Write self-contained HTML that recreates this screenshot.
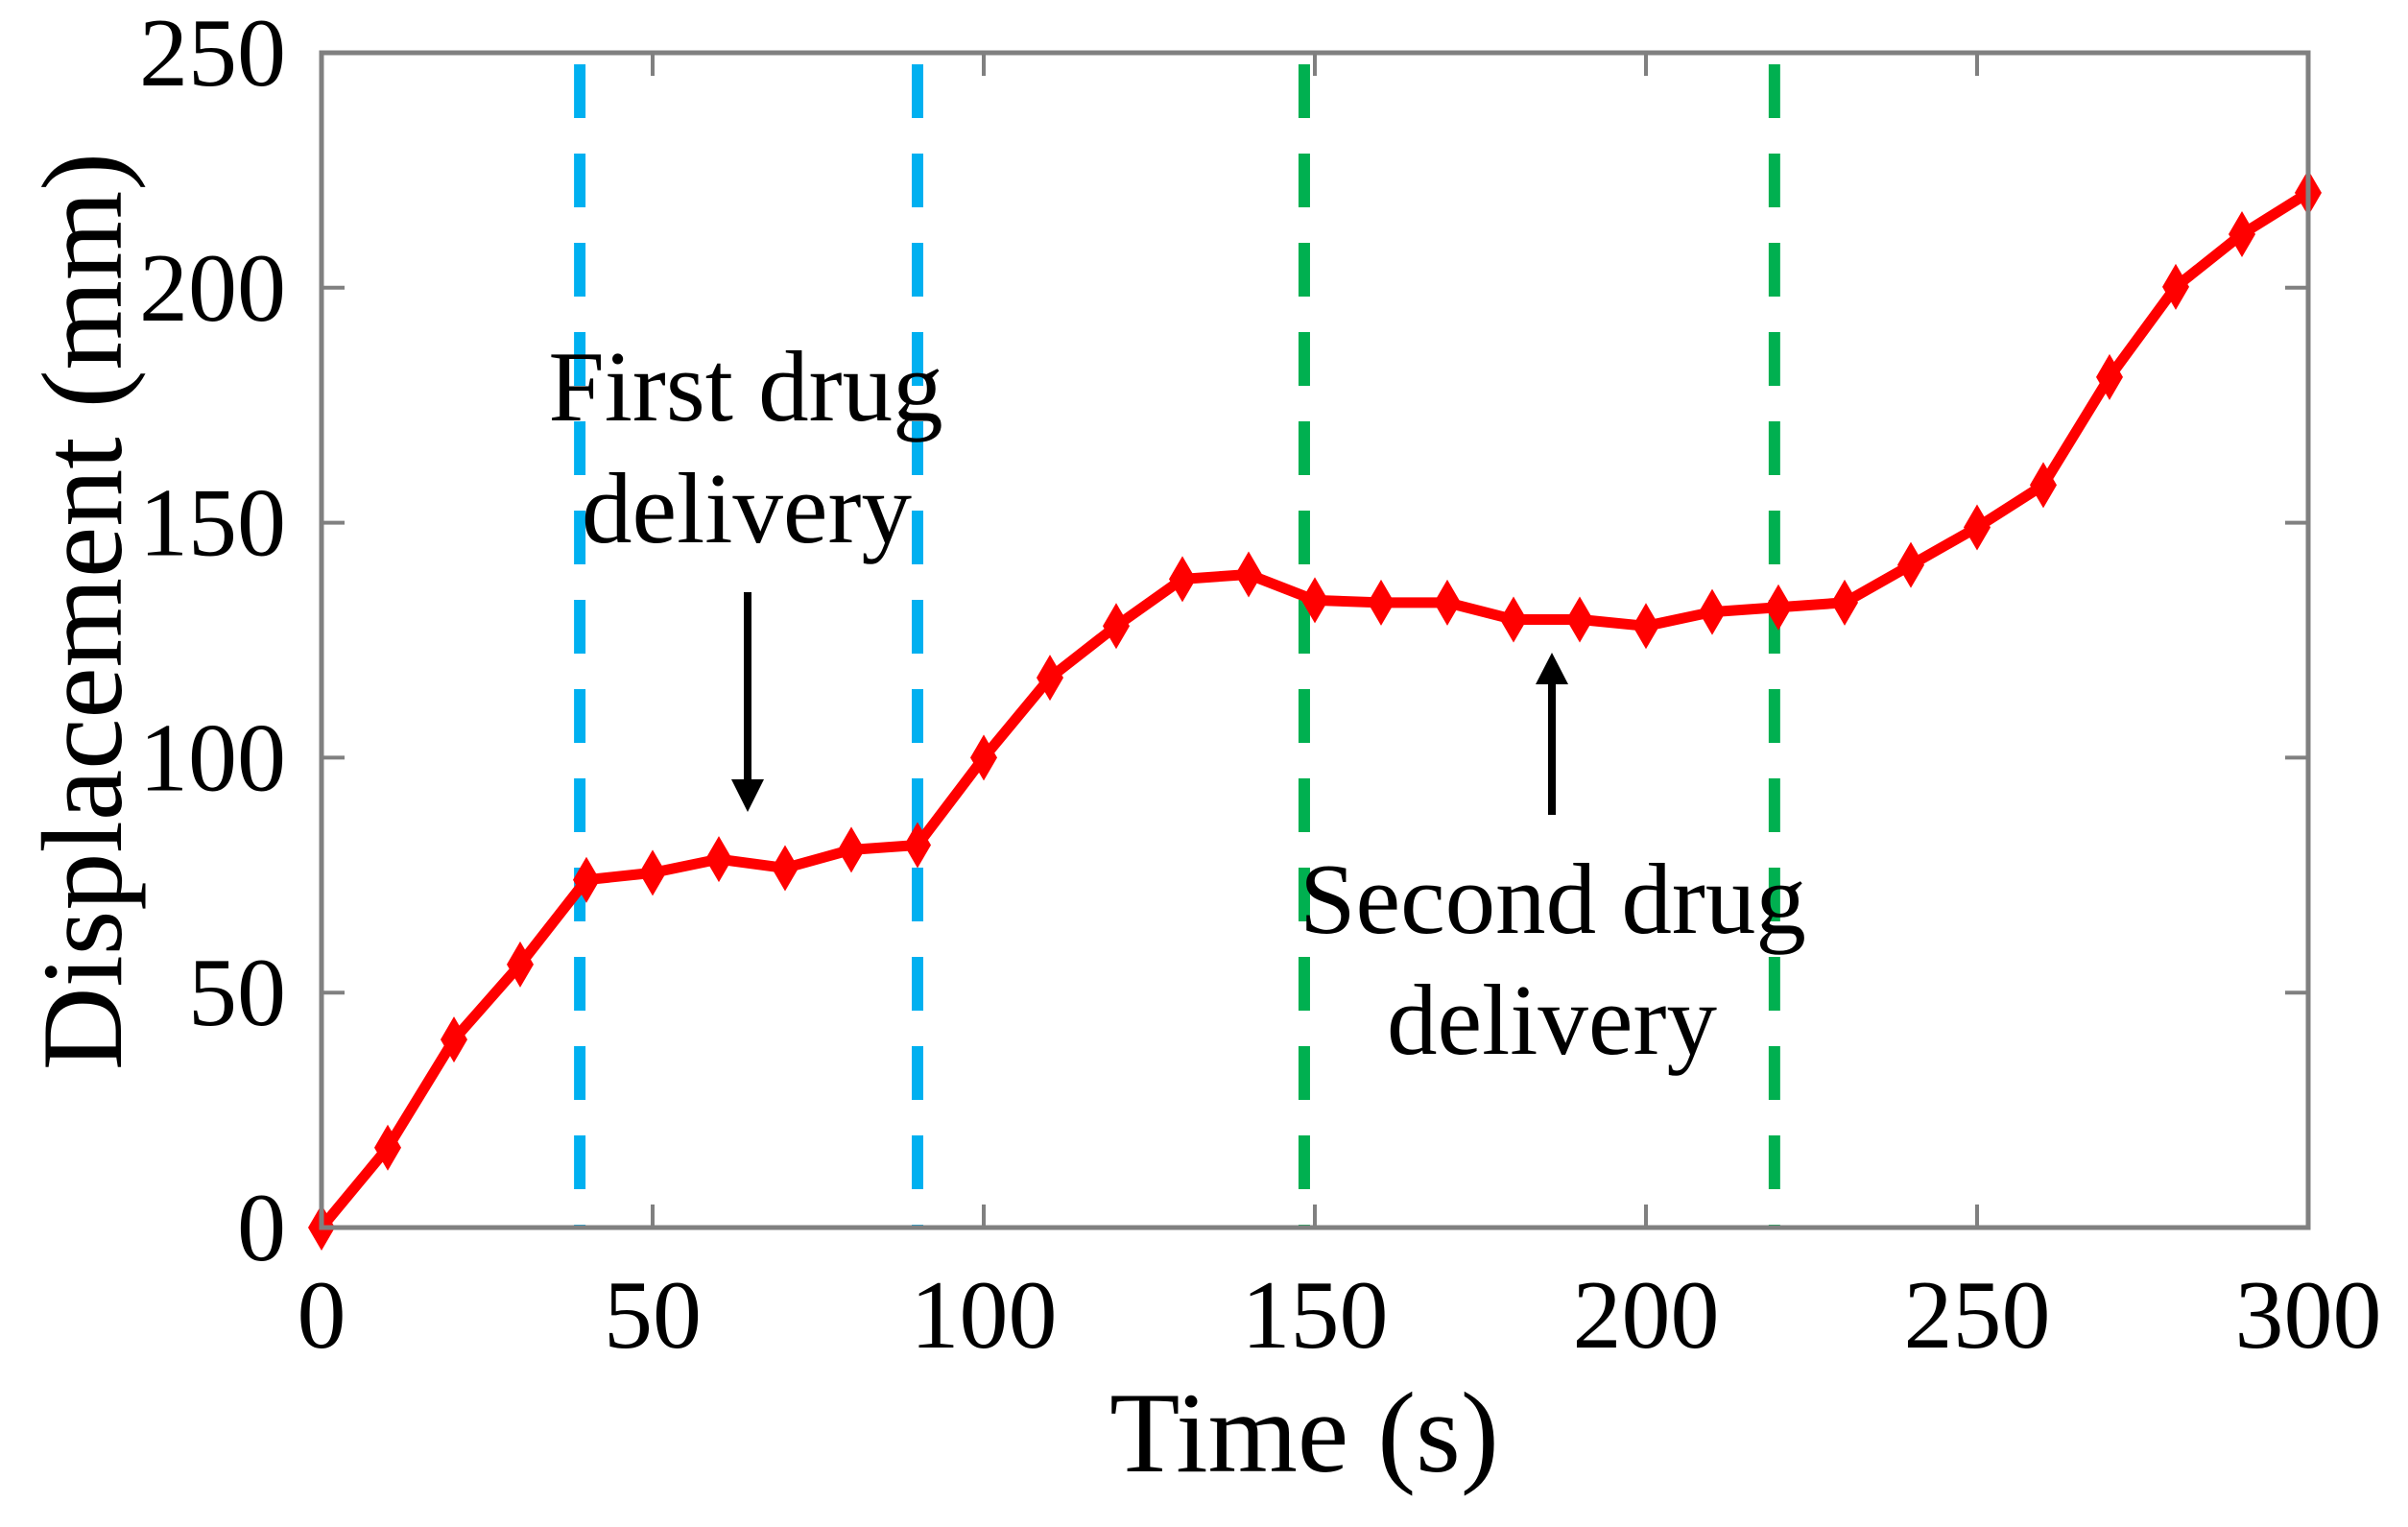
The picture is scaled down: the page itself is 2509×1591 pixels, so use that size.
<!DOCTYPE html>
<html><head><meta charset="utf-8"><style>
html,body{margin:0;padding:0;background:#fff;}
svg{display:block;}
text{font-family:"Liberation Serif",serif;fill:#000;}
</style></head><body>
<svg id="chart" width="2509" height="1591" viewBox="0 0 2509 1591" xmlns="http://www.w3.org/2000/svg">
<rect x="0" y="0" width="2509" height="1591" fill="#fff"/>
<g id="guides"></g>
<g id="series"></g>
<g id="axes"></g>
<g>
<text x="777" y="438" font-size="105" text-anchor="middle">First drug</text>
<text x="778" y="565" font-size="105" text-anchor="middle">delivery</text>
<line x1="779" y1="617" x2="779" y2="815" stroke="#000" stroke-width="8"/>
<polygon points="762,812 796,812 779,846" fill="#000"/>
<text x="1618" y="972" font-size="105" text-anchor="middle">Second drug</text>
<text x="1617" y="1098" font-size="105" text-anchor="middle">delivery</text>
<line x1="1617" y1="849" x2="1617" y2="710" stroke="#000" stroke-width="8"/>
<polygon points="1600,713 1634,713 1617,680" fill="#000"/>
</g>
<text x="1359" y="1533" font-size="120" text-anchor="middle">Time (s)</text>
<text transform="translate(126,637) rotate(-90)" x="0" y="0" font-size="120" text-anchor="middle">Displacement (mm)</text>
</svg>
<script>
const times = [0,10,20,30,40,50,60,70,80,90,100,110,120,130,140,150,160,170,180,190,200,210,220,230,240,250,260,270,280,290,300];
const displacement = [0,17,40,56,74,75.5,78.4,76.5,80.4,81.4,100,117,128,138,139,133.5,133,133,129.4,129.4,128,131,132,133,141,149,158,181,200.2,211.4,220.2];
const xTicks = [0,50,100,150,200,250,300];
const yTicks = [0,50,100,150,200,250];
const blueGuides = [39,90];
const greenGuides = [148.4,219.4];

const L=335,R=2405,T=55,B=1279;
const xMin=0,xMax=300,yMin=0,yMax=250;
const sx=v=>L+(v-xMin)/(xMax-xMin)*(R-L);
const sy=v=>B-(v-yMin)/(yMax-yMin)*(B-T);
const NS='http://www.w3.org/2000/svg';
function mk(tag,attrs,parent){const e=document.createElementNS(NS,tag);for(const k in attrs)e.setAttribute(k,attrs[k]);parent.appendChild(e);return e;}

const guides=document.getElementById('guides');
blueGuides.forEach(v=>{
  const l=mk('line',{x1:sx(v),x2:sx(v),y1:67,y2:B,stroke:'#00b0f0','stroke-width':12,'stroke-dasharray':'56 37'},guides);
  
  
});
greenGuides.forEach(v=>{
  const l=mk('line',{x1:sx(v),x2:sx(v),y1:67,y2:B,stroke:'#00b050','stroke-width':12,'stroke-dasharray':'56 37'},guides);
  
  
});

const series=document.getElementById('series');
const pts=times.map((t,i)=>sx(t)+','+sy(displacement[i])).join(' ');
const pl=mk('polyline',{points:pts,fill:'none',stroke:'#ff0000','stroke-width':11,'stroke-linejoin':'round'},series);


times.forEach((t,i)=>{
  const x=sx(t),y=sy(displacement[i]);
  const m=mk('polygon',{points:`${x},${y-24} ${x+14},${y} ${x},${y+24} ${x-14},${y}`,fill:'#ff0000'},series);
  
  
});

const axes=document.getElementById('axes');
const box=mk('rect',{x:L,y:T,width:R-L,height:B-T,fill:'none',stroke:'#808080','stroke-width':5},axes);


xTicks.forEach(v=>{
  const x=sx(v);
  const t1=mk('line',{x1:x,x2:x,y1:B,y2:B-24,stroke:'#808080','stroke-width':4},axes);
  
  
  const t2=mk('line',{x1:x,x2:x,y1:T,y2:T+24,stroke:'#808080','stroke-width':4},axes);
  
  
  const lb=mk('text',{x:x,y:1404,'font-size':102,'text-anchor':'middle'},axes);
  lb.textContent=String(v);
  
  
});
yTicks.forEach(v=>{
  const y=sy(v);
  const t1=mk('line',{x1:L,x2:L+24,y1:y,y2:y,stroke:'#808080','stroke-width':4},axes);
  
  
  const t2=mk('line',{x1:R,x2:R-24,y1:y,y2:y,stroke:'#808080','stroke-width':4},axes);
  
  
  const lb=mk('text',{x:298,y:y+34,'font-size':102,'text-anchor':'end'},axes);
  lb.textContent=String(v);
  
  
});
</script>
</body></html>
